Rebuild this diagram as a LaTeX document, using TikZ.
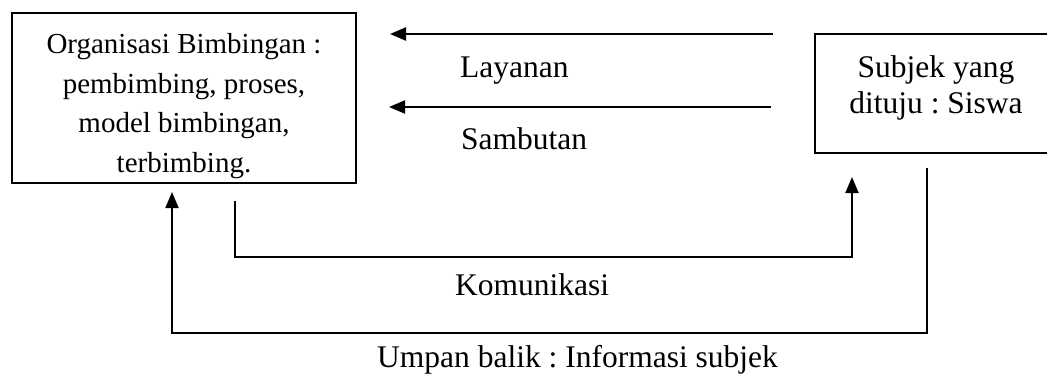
\documentclass[tikz,border=0pt]{standalone}
\usepackage{fontspec}
\setmainfont{Liberation Serif}
\usetikzlibrary{arrows.meta}
\frenchspacing
\begin{document}
\begin{tikzpicture}[x=1pt,y=-1pt,
  frame/.style={draw, line width=1.8pt, inner sep=0pt},
  boxtext/.style={font=\fontsize{29}{39.5}\selectfont, align=center, inner sep=0pt},
  subjtext/.style={font=\fontsize{31.5}{36}\selectfont, align=center, inner sep=0pt},
  lbl/.style={font=\fontsize{31.5}{36}\selectfont, inner sep=0pt, anchor=base west},
  conn/.style={line width=2.2pt, -{Triangle[length=16pt,width=13pt]}},
  fbline/.style={line width=1.8pt, -{Triangle[length=16pt,width=13pt]}}]
\useasboundingbox (0,0) rectangle (1047,375);
\fill[white] (0,0) rectangle (1047,375);

% boxes
\node[frame, minimum width=344pt, minimum height=170pt] (org) at (184,98) {};
\node[boxtext] (orgtxt) at (184,106)
  {Organisasi Bimbingan :\\ pembimbing, proses,\\ model bimbingan,\\ terbimbing.};
\node[frame, minimum width=237pt, minimum height=119pt] (subj) at (933.5,93.5) {};
\node[subjtext] (subjtxt) at (936,88) {Subjek yang\\ dituju : Siswa};

% arrow end points
\coordinate (lay0) at (773,34);
\coordinate (lay1) at (390,34);
\coordinate (sam0) at (771,107);
\coordinate (sam1) at (389,107);
\coordinate (kom0) at (235,201);
\coordinate (kom1) at (852,177);
\coordinate (komy) at (0,257);
\coordinate (fb0) at (927,168);
\coordinate (fb1) at (172,192);
\coordinate (fby) at (0,333);

% connectors
\draw[conn] (lay0) -- (lay1);
\draw[conn] (sam0) -- (sam1);
\draw[conn] (kom0) -- (kom0 |- komy) -- (kom1 |- komy) -- (kom1);
\draw[fbline] (fb0) -- (fb0 |- fby) -- (fb1 |- fby) -- (fb1);

% labels
\node[lbl] (laylbl) at (460,77) {Layanan};
\node[lbl] (samlbl) at (461,149) {Sambutan};
\node[lbl] (komlbl) at (455,295) {Komunikasi};
\node[lbl] (fblbl) at (377,367) {Umpan balik : Informasi subjek};
\end{tikzpicture}
\end{document}
